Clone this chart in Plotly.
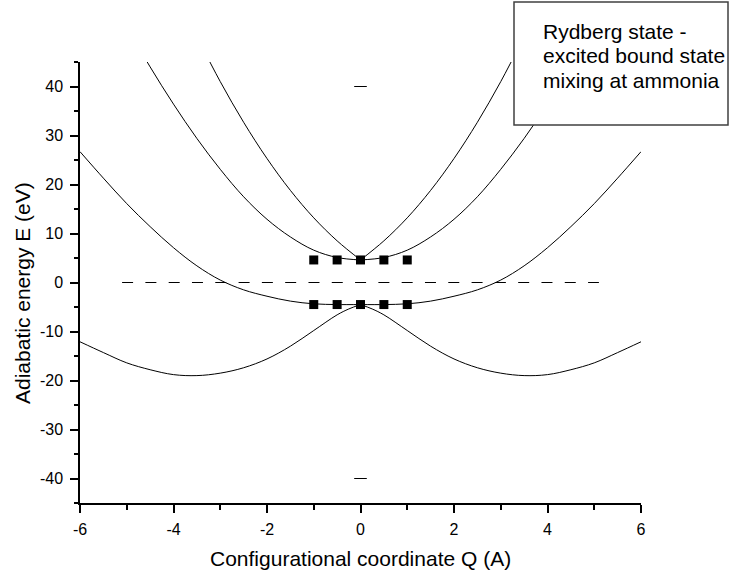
import plotly.graph_objects as go

FONT = "Arial, Liberation Sans, sans-serif"

# Curve A: steep excited branch (meets at Q=0)
qa = [-3.5, -3.0, -2.5, -2.0, -1.5, -1.0, -0.5, 0.0, 0.5, 1.0, 1.5, 2.0, 2.5, 3.0, 3.5]
ea = [50.2, 41.0, 32.7, 25.3, 18.8, 13.2, 8.5, 4.6, 8.5, 13.2, 18.8, 25.3, 32.7, 41.0, 50.2]

# Curve B: gentler excited branch
qb = [-5.0, -4.5, -4.0, -3.5, -3.0, -2.5, -2.0, -1.5, -1.0, -0.5, 0.0,
      0.5, 1.0, 1.5, 2.0, 2.5, 3.0, 3.5, 4.0, 4.5, 5.0]
eb = [52.2, 44.0, 36.4, 29.4, 23.1, 17.5, 12.9, 9.3, 6.6, 5.1, 4.6,
      5.1, 6.6, 9.3, 12.9, 17.5, 23.1, 29.4, 36.4, 44.0, 52.2]

# Curve C: upper adiabatic state of lower pair
qc = [-6, -5.5, -5, -4.5, -4, -3.5, -3, -2.5, -2, -1.5, -1, -0.5, 0,
      0.5, 1, 1.5, 2, 2.5, 3, 3.5, 4, 4.5, 5, 5.5, 6]
ec = [26.7, 21.3, 16.1, 11.4, 7.1, 3.4, 0.5, -1.5, -2.8, -3.8, -4.35, -4.5, -4.5,
      -4.5, -4.35, -3.8, -2.8, -1.5, 0.5, 3.4, 7.1, 11.4, 16.1, 21.3, 26.7]

# Curve D: ground state double well
qd = [-6, -5.5, -5, -4.5, -4, -3.5, -3, -2.5, -2, -1.5, -1, -0.5, -0.25, 0,
      0.25, 0.5, 1, 1.5, 2, 2.5, 3, 3.5, 4, 4.5, 5, 5.5, 6]
ed = [-12.1, -14.3, -16.4, -17.8, -18.8, -19.0, -18.5, -17.4, -15.6, -13.0, -9.8, -6.6, -5.4, -4.5,
      -5.4, -6.6, -9.8, -13.0, -15.6, -17.4, -18.5, -19.0, -18.8, -17.8, -16.4, -14.3, -12.1]

# square markers
mq = [-1.0, -0.5, 0.0, 0.5, 1.0]
m_upper = [4.6, 4.6, 4.6, 4.6, 4.6]
m_lower = [-4.5, -4.5, -4.5, -4.5, -4.5]

# small dash marks
dash_q = [0.0, 0.0]
dash_e = [40.0, -40.0]

# dashed reference line
ref_q = [-5.1, 5.1]
ref_e = [0.0, 0.0]

# tick labels
x_tickvals = [-6, -4, -2, 0, 2, 4, 6]
x_ticktext = ["-6", "-4", "-2", "0", "2", "4", "6"]
y_tickvals = [-40, -30, -20, -10, 0, 10, 20, 30, 40]
y_ticktext = ["-40", "-30", "-20", "-10", "0", "10", "20", "30", "40"]

box_lines = ["Rydberg state -", "excited bound state", "mixing at ammonia"]
x_title = "Configurational coordinate Q (A)"
y_title = "Adiabatic energy E (eV)"

fig = go.Figure()

line_style = dict(color="black", width=1, shape="spline", smoothing=1.0)


def add_split(q, e):
    left = [(a, b) for a, b in zip(q, e) if a <= 0]
    right = [(a, b) for a, b in zip(q, e) if a >= 0]
    for part in (left, right):
        fig.add_trace(go.Scatter(x=[p[0] for p in part], y=[p[1] for p in part],
                                 mode="lines", line=line_style, hoverinfo="skip",
                                 showlegend=False))


for q, e in ((qa, ea), (qb, eb), (qc, ec), (qd, ed)):
    add_split(q, e)

fig.add_trace(go.Scatter(x=ref_q, y=ref_e, mode="lines",
                         line=dict(color="black", width=1, dash="11px,12.3px"),
                         hoverinfo="skip", showlegend=False))

for ys in (m_upper, m_lower):
    fig.add_trace(go.Scatter(x=mq, y=ys, mode="markers",
                             marker=dict(symbol="square", size=9, color="black"),
                             hoverinfo="skip", showlegend=False))

fig.add_trace(go.Scatter(x=dash_q, y=dash_e, mode="markers",
                         marker=dict(symbol="line-ew", size=9,
                                     line=dict(width=1, color="black")),
                         hoverinfo="skip", showlegend=False))

axis_common = dict(showgrid=False, zeroline=False, showline=True, linecolor="black",
                   linewidth=1.5, ticks="outside", ticklen=8, tickwidth=1.5,
                   tickcolor="black", mirror=False,
                   tickfont=dict(family=FONT, size=16, color="black"))

fig.update_xaxes(range=[-6, 6], tickmode="array", tickvals=x_tickvals,
                 ticktext=x_ticktext, ticklabelstandoff=3,
                 minor=dict(dtick=1, tick0=-6, ticks="outside", ticklen=5, tickwidth=1.5,
                            tickcolor="black"),
                 **axis_common)
fig.update_yaxes(range=[-45, 45], tickmode="array", tickvals=y_tickvals,
                 ticktext=y_ticktext, ticklabelstandoff=4,
                 minor=dict(dtick=5, tick0=0, ticks="outside", ticklen=4, tickwidth=1.5,
                            tickcolor="black"),
                 **axis_common)

# paper coords computed from page pixels of plot area 80..641 x 62..503
PX0, PW, PY1, PH = 80.0, 561.0, 503.0, 441.0


def px_x(px):
    return (px - PX0) / PW


def px_y(py):
    return (PY1 - py) / PH


fig.add_shape(type="rect", xref="paper", yref="paper",
              x0=px_x(514), x1=px_x(728), y0=px_y(125), y1=px_y(2),
              line=dict(color="#404040", width=1.5), fillcolor="white", layer="above")

for i, txt in enumerate(box_lines):
    cy = 32 + 24 * i
    fig.add_annotation(text=txt, xref="paper", yref="paper",
                       x=px_x(540.5), y=px_y(cy),
                       xanchor="left", yanchor="middle", showarrow=False,
                       font=dict(family=FONT, size=21, color="black"))

fig.add_annotation(text=x_title, xref="paper", yref="paper",
                   x=0.5, y=px_y(558), xanchor="center", yanchor="middle",
                   showarrow=False, font=dict(family=FONT, size=21, color="black"))
fig.add_annotation(text=y_title, xref="paper", yref="paper", textangle=-90,
                   x=px_x(22), y=px_y(293), xanchor="center",
                   yanchor="middle", showarrow=False,
                   font=dict(family=FONT, size=21, color="black"))

fig.update_layout(width=729, height=577,
                  margin=dict(l=80, r=88, t=62, b=74),
                  paper_bgcolor="white", plot_bgcolor="white",
                  showlegend=False, hovermode=False,
                  font=dict(family=FONT, color="black"))

# remove the browser's default 8px body margin so the figure fills the window
fig.write_html("out.html", config={"displayModeBar": False},
               post_script="document.body.style.margin='0px';")
